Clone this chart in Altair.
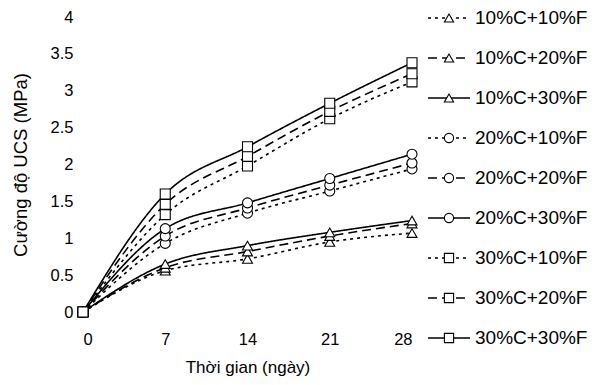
import altair as alt
import pandas as pd

days = [0, 7, 14, 21, 28]
series = ["10%C+10%F", "10%C+20%F", "10%C+30%F",
          "20%C+10%F", "20%C+20%F", "20%C+30%F",
          "30%C+10%F", "30%C+20%F", "30%C+30%F"]
values = {
    "10%C+10%F": [0, 0.56, 0.72, 0.95, 1.07],
    "10%C+20%F": [0, 0.60, 0.82, 1.03, 1.20],
    "10%C+30%F": [0, 0.65, 0.90, 1.08, 1.24],
    "20%C+10%F": [0, 0.93, 1.34, 1.64, 1.94],
    "20%C+20%F": [0, 1.03, 1.41, 1.72, 2.02],
    "20%C+30%F": [0, 1.13, 1.48, 1.81, 2.14],
    "30%C+10%F": [0, 1.32, 1.98, 2.62, 3.12],
    "30%C+20%F": [0, 1.46, 2.11, 2.72, 3.23],
    "30%C+30%F": [0, 1.60, 2.24, 2.83, 3.38],
}
shapes = ["triangle-up"] * 3 + ["circle"] * 3 + ["square"] * 3
dashes = [[3, 4], [9, 5], [1, 0]] * 3
y_ticks = [0, 0.5, 1, 1.5, 2, 2.5, 3, 3.5, 4]

rows = []
for s in series:
    for d, v in zip(days, values[s]):
        rows.append({"series": s, "day": d, "ucs": v})
df = pd.DataFrame(rows)
leg = pd.DataFrame({"series": series, "row": list(range(len(series)))})

FONT = "Liberation Sans"
dash_scale = alt.Scale(domain=series, range=dashes)
shape_scale = alt.Scale(domain=series, range=shapes)

x = alt.X("day:Q", scale=alt.Scale(domain=[0, 28], nice=False),
          axis=alt.Axis(values=days, title="Thời gian (ngày)", grid=False,
                        domain=False, ticks=False, labelPadding=19,
                        titlePadding=12, labelFontSize=16.5, titleFontSize=17,
                        labelFont=FONT, titleFont=FONT, titleFontWeight="normal",
                        labelColor="black", titleColor="black"))
y = alt.Y("ucs:Q", scale=alt.Scale(domain=[0, 4], nice=False),
          axis=alt.Axis(values=y_ticks, format="~g", title="Cường độ UCS (MPa)", grid=False,
                        domain=False, ticks=False, labelPadding=10,
                        titlePadding=20, labelFontSize=16.5, titleFontSize=18.5,
                        labelFont=FONT, titleFont=FONT, titleFontWeight="normal",
                        labelColor="black", titleColor="black"))

lines = alt.Chart(df).mark_line(color="black", strokeWidth=1.6, interpolate="monotone").encode(
    x=x, y=y,
    strokeDash=alt.StrokeDash("series:N", scale=dash_scale, legend=None),
    detail="series:N",
)
points = alt.Chart(df).mark_point(filled=True, fill="white", stroke="black",
                                  strokeWidth=1.1, size=100, opacity=1).encode(
    x=x, y=y,
    shape=alt.Shape("series:N", scale=shape_scale, legend=None),
    order=alt.Order("series:N"),
)
main = alt.layer(lines, points)

ly = alt.Y("row:Q", scale=alt.Scale(domain=[-0.025, 7.35], reverse=True, nice=False, zero=False), axis=None)
leg_rule = alt.Chart(leg).mark_rule(color="black", strokeWidth=1.6).encode(
    x=alt.value(345), x2=alt.value(387), y=ly,
    strokeDash=alt.StrokeDash("series:N", scale=dash_scale, legend=None),
)
leg_pt = alt.Chart(leg).mark_point(filled=True, fill="white", stroke="black",
                                   strokeWidth=1.1, size=85, opacity=1).encode(
    x=alt.value(366), y=ly,
    shape=alt.Shape("series:N", scale=shape_scale, legend=None),
)
leg_txt = alt.Chart(leg).mark_text(align="left", baseline="middle", font=FONT,
                                   fontSize=19, color="black").encode(
    x=alt.value(392), y=ly, text="series:N",
)
legend = alt.layer(leg_rule, leg_pt, leg_txt)

chart = alt.layer(main, legend).resolve_scale(y="independent").properties(
    width=329, height=295,
    background="white",
    autosize=alt.AutoSizeParams(type="none"),
    padding={"left": 75, "top": 9, "right": 185, "bottom": 65},
).configure_view(stroke=None)

chart.save("out.html", embed_options={"renderer": "svg", "actions": False})
